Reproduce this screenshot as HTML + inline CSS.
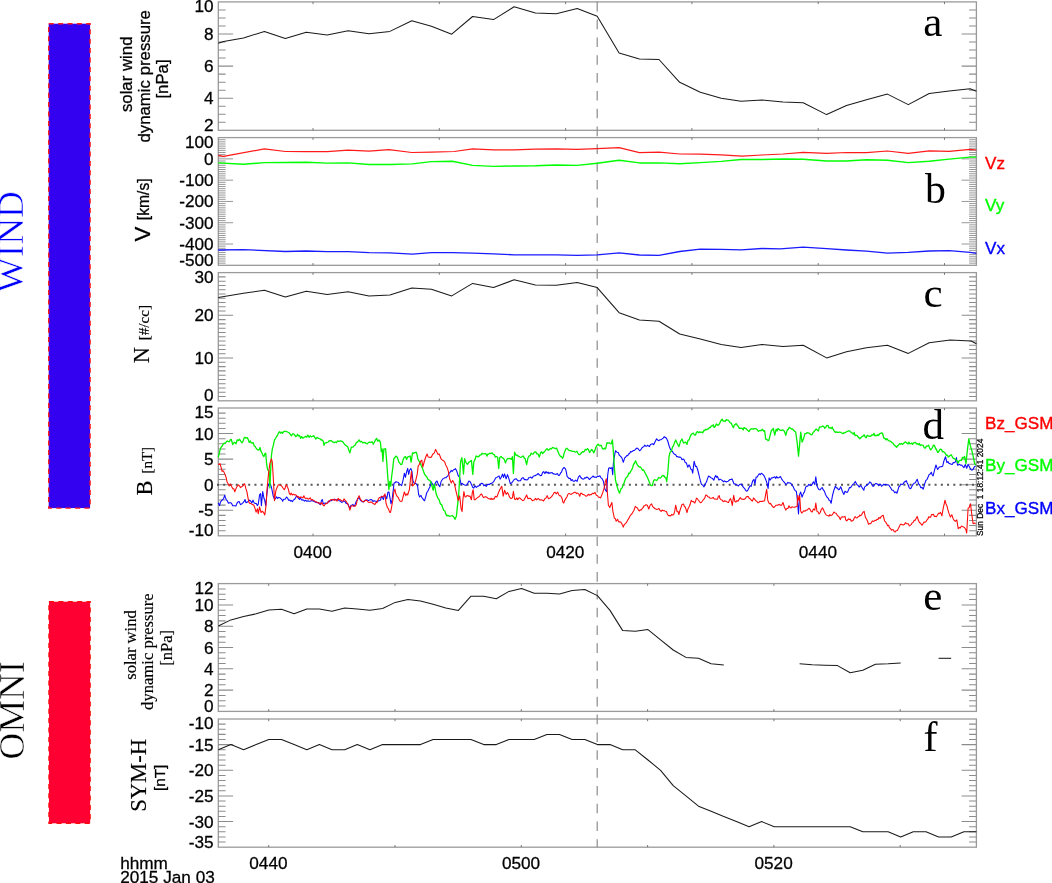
<!DOCTYPE html>
<html lang="en"><head><meta charset="utf-8"><title>WIND / OMNI solar wind overview</title>
<style>
html,body{margin:0;padding:0;background:#fff;}
svg{display:block;}
text{white-space:pre;}
</style></head>
<body>
<svg width="1052" height="883" viewBox="0 0 1052 883">
<rect width="1052" height="883" fill="#fff"/>
<g stroke="#9a9a9a" stroke-width="1.3" fill="none">
<rect x="218.3" y="1.9" width="758.1" height="128.4"/>
<path stroke-width="1.05" stroke="#8c8c8c" d="M218.3 9.93h7.3M976.4 9.93h-7.3M218.3 17.95h7.3M976.4 17.95h-7.3M218.3 25.98h7.3M976.4 25.98h-7.3M218.3 34.00h14.8M976.4 34.00h-14.8M218.3 42.02h7.3M976.4 42.02h-7.3M218.3 50.05h7.3M976.4 50.05h-7.3M218.3 58.08h7.3M976.4 58.08h-7.3M218.3 66.10h14.8M976.4 66.10h-14.8M218.3 74.13h7.3M976.4 74.13h-7.3M218.3 82.15h7.3M976.4 82.15h-7.3M218.3 90.18h7.3M976.4 90.18h-7.3M218.3 98.20h14.8M976.4 98.20h-14.8M218.3 106.23h7.3M976.4 106.23h-7.3M218.3 114.25h7.3M976.4 114.25h-7.3M218.3 122.28h7.3M976.4 122.28h-7.3"/>
<path stroke="#777" stroke-width="1" d="M313.0 1.9v2.2M313.0 130.3v-2.2M565.6 1.9v2.2M565.6 130.3v-2.2M818.2 1.9v2.2M818.2 130.3v-2.2M439.3 1.9v2.2M439.3 130.3v-2.2M691.9 1.9v2.2M691.9 130.3v-2.2M944.5 1.9v2.2M944.5 130.3v-2.2"/>
<rect x="218.3" y="137.6" width="758.1" height="127.7"/>
<path stroke-width="0.85" stroke="#858585" d="M218.3 139.73h7.3M976.4 139.73h-7.3M218.3 141.86h7.3M976.4 141.86h-7.3M218.3 143.98h7.3M976.4 143.98h-7.3M218.3 146.11h7.3M976.4 146.11h-7.3M218.3 148.24h7.3M976.4 148.24h-7.3M218.3 150.37h7.3M976.4 150.37h-7.3M218.3 152.50h7.3M976.4 152.50h-7.3M218.3 154.63h7.3M976.4 154.63h-7.3M218.3 156.75h7.3M976.4 156.75h-7.3M218.3 158.88h14.8M976.4 158.88h-14.8M218.3 161.01h7.3M976.4 161.01h-7.3M218.3 163.14h7.3M976.4 163.14h-7.3M218.3 165.27h7.3M976.4 165.27h-7.3M218.3 167.40h7.3M976.4 167.40h-7.3M218.3 169.53h7.3M976.4 169.53h-7.3M218.3 171.65h7.3M976.4 171.65h-7.3M218.3 173.78h7.3M976.4 173.78h-7.3M218.3 175.91h7.3M976.4 175.91h-7.3M218.3 178.04h7.3M976.4 178.04h-7.3M218.3 180.17h14.8M976.4 180.17h-14.8M218.3 182.29h7.3M976.4 182.29h-7.3M218.3 184.42h7.3M976.4 184.42h-7.3M218.3 186.55h7.3M976.4 186.55h-7.3M218.3 188.68h7.3M976.4 188.68h-7.3M218.3 190.81h7.3M976.4 190.81h-7.3M218.3 192.94h7.3M976.4 192.94h-7.3M218.3 195.06h7.3M976.4 195.06h-7.3M218.3 197.19h7.3M976.4 197.19h-7.3M218.3 199.32h7.3M976.4 199.32h-7.3M218.3 201.45h14.8M976.4 201.45h-14.8M218.3 203.58h7.3M976.4 203.58h-7.3M218.3 205.71h7.3M976.4 205.71h-7.3M218.3 207.84h7.3M976.4 207.84h-7.3M218.3 209.96h7.3M976.4 209.96h-7.3M218.3 212.09h7.3M976.4 212.09h-7.3M218.3 214.22h7.3M976.4 214.22h-7.3M218.3 216.35h7.3M976.4 216.35h-7.3M218.3 218.48h7.3M976.4 218.48h-7.3M218.3 220.61h7.3M976.4 220.61h-7.3M218.3 222.73h14.8M976.4 222.73h-14.8M218.3 224.86h7.3M976.4 224.86h-7.3M218.3 226.99h7.3M976.4 226.99h-7.3M218.3 229.12h7.3M976.4 229.12h-7.3M218.3 231.25h7.3M976.4 231.25h-7.3M218.3 233.38h7.3M976.4 233.38h-7.3M218.3 235.50h7.3M976.4 235.50h-7.3M218.3 237.63h7.3M976.4 237.63h-7.3M218.3 239.76h7.3M976.4 239.76h-7.3M218.3 241.89h7.3M976.4 241.89h-7.3M218.3 244.02h14.8M976.4 244.02h-14.8M218.3 246.15h7.3M976.4 246.15h-7.3M218.3 248.27h7.3M976.4 248.27h-7.3M218.3 250.40h7.3M976.4 250.40h-7.3M218.3 252.53h7.3M976.4 252.53h-7.3M218.3 254.66h7.3M976.4 254.66h-7.3M218.3 256.79h7.3M976.4 256.79h-7.3M218.3 258.92h7.3M976.4 258.92h-7.3M218.3 261.04h7.3M976.4 261.04h-7.3M218.3 263.17h7.3M976.4 263.17h-7.3"/>
<path stroke="#777" stroke-width="1" d="M313.0 137.6v2.2M313.0 265.3v-2.2M565.6 137.6v2.2M565.6 265.3v-2.2M818.2 137.6v2.2M818.2 265.3v-2.2M439.3 137.6v2.2M439.3 265.3v-2.2M691.9 137.6v2.2M691.9 265.3v-2.2M944.5 137.6v2.2M944.5 265.3v-2.2"/>
<rect x="218.3" y="272.6" width="758.1" height="128.2"/>
<path stroke-width="1.05" stroke="#8c8c8c" d="M218.3 276.87h7.3M976.4 276.87h-7.3M218.3 281.15h7.3M976.4 281.15h-7.3M218.3 285.42h7.3M976.4 285.42h-7.3M218.3 289.69h7.3M976.4 289.69h-7.3M218.3 293.97h7.3M976.4 293.97h-7.3M218.3 298.24h7.3M976.4 298.24h-7.3M218.3 302.51h7.3M976.4 302.51h-7.3M218.3 306.79h7.3M976.4 306.79h-7.3M218.3 311.06h7.3M976.4 311.06h-7.3M218.3 315.33h14.8M976.4 315.33h-14.8M218.3 319.61h7.3M976.4 319.61h-7.3M218.3 323.88h7.3M976.4 323.88h-7.3M218.3 328.15h7.3M976.4 328.15h-7.3M218.3 332.43h7.3M976.4 332.43h-7.3M218.3 336.70h7.3M976.4 336.70h-7.3M218.3 340.97h7.3M976.4 340.97h-7.3M218.3 345.25h7.3M976.4 345.25h-7.3M218.3 349.52h7.3M976.4 349.52h-7.3M218.3 353.79h7.3M976.4 353.79h-7.3M218.3 358.07h14.8M976.4 358.07h-14.8M218.3 362.34h7.3M976.4 362.34h-7.3M218.3 366.61h7.3M976.4 366.61h-7.3M218.3 370.89h7.3M976.4 370.89h-7.3M218.3 375.16h7.3M976.4 375.16h-7.3M218.3 379.43h7.3M976.4 379.43h-7.3M218.3 383.71h7.3M976.4 383.71h-7.3M218.3 387.98h7.3M976.4 387.98h-7.3M218.3 392.25h7.3M976.4 392.25h-7.3M218.3 396.53h7.3M976.4 396.53h-7.3"/>
<path stroke="#777" stroke-width="1" d="M313.0 272.6v2.2M313.0 400.8v-2.2M565.6 272.6v2.2M565.6 400.8v-2.2M818.2 272.6v2.2M818.2 400.8v-2.2M439.3 272.6v2.2M439.3 400.8v-2.2M691.9 272.6v2.2M691.9 400.8v-2.2M944.5 272.6v2.2M944.5 400.8v-2.2"/>
<rect x="218.3" y="408.0" width="758.1" height="127.8"/>
<path stroke-width="1.05" stroke="#8c8c8c" d="M218.3 413.11h7.3M976.4 413.11h-7.3M218.3 418.22h7.3M976.4 418.22h-7.3M218.3 423.34h7.3M976.4 423.34h-7.3M218.3 428.45h7.3M976.4 428.45h-7.3M218.3 433.56h14.8M976.4 433.56h-14.8M218.3 438.67h7.3M976.4 438.67h-7.3M218.3 443.78h7.3M976.4 443.78h-7.3M218.3 448.90h7.3M976.4 448.90h-7.3M218.3 454.01h7.3M976.4 454.01h-7.3M218.3 459.12h14.8M976.4 459.12h-14.8M218.3 464.23h7.3M976.4 464.23h-7.3M218.3 469.34h7.3M976.4 469.34h-7.3M218.3 474.46h7.3M976.4 474.46h-7.3M218.3 479.57h7.3M976.4 479.57h-7.3M218.3 484.68h14.8M976.4 484.68h-14.8M218.3 489.79h7.3M976.4 489.79h-7.3M218.3 494.90h7.3M976.4 494.90h-7.3M218.3 500.02h7.3M976.4 500.02h-7.3M218.3 505.13h7.3M976.4 505.13h-7.3M218.3 510.24h14.8M976.4 510.24h-14.8M218.3 515.35h7.3M976.4 515.35h-7.3M218.3 520.46h7.3M976.4 520.46h-7.3M218.3 525.58h7.3M976.4 525.58h-7.3M218.3 530.69h7.3M976.4 530.69h-7.3"/>
<path stroke="#777" stroke-width="1" d="M313.0 408.0v2.2M313.0 535.8v-2.2M565.6 408.0v2.2M565.6 535.8v-2.2M818.2 408.0v2.2M818.2 535.8v-2.2M439.3 408.0v2.2M439.3 535.8v-2.2M691.9 408.0v2.2M691.9 535.8v-2.2M944.5 408.0v2.2M944.5 535.8v-2.2"/>
<rect x="218.3" y="583.6" width="758.1" height="127.8"/>
<path stroke-width="1.05" stroke="#8c8c8c" d="M218.3 588.93h7.3M976.4 588.93h-7.3M218.3 594.25h7.3M976.4 594.25h-7.3M218.3 599.58h7.3M976.4 599.58h-7.3M218.3 604.90h14.8M976.4 604.90h-14.8M218.3 610.23h7.3M976.4 610.23h-7.3M218.3 615.55h7.3M976.4 615.55h-7.3M218.3 620.88h7.3M976.4 620.88h-7.3M218.3 626.20h14.8M976.4 626.20h-14.8M218.3 631.52h7.3M976.4 631.52h-7.3M218.3 636.85h7.3M976.4 636.85h-7.3M218.3 642.17h7.3M976.4 642.17h-7.3M218.3 647.50h14.8M976.4 647.50h-14.8M218.3 652.83h7.3M976.4 652.83h-7.3M218.3 658.15h7.3M976.4 658.15h-7.3M218.3 663.48h7.3M976.4 663.48h-7.3M218.3 668.80h14.8M976.4 668.80h-14.8M218.3 674.12h7.3M976.4 674.12h-7.3M218.3 679.45h7.3M976.4 679.45h-7.3M218.3 684.77h7.3M976.4 684.77h-7.3M218.3 690.10h14.8M976.4 690.10h-14.8M218.3 695.42h7.3M976.4 695.42h-7.3M218.3 700.75h7.3M976.4 700.75h-7.3M218.3 706.08h7.3M976.4 706.08h-7.3"/>
<path stroke="#777" stroke-width="1" d="M268.7 583.6v2.2M268.7 711.4v-2.2M521.3 583.6v2.2M521.3 711.4v-2.2M773.9 583.6v2.2M773.9 711.4v-2.2M395.0 583.6v2.2M395.0 711.4v-2.2M647.6 583.6v2.2M647.6 711.4v-2.2M900.2 583.6v2.2M900.2 711.4v-2.2"/>
<rect x="218.3" y="719.0" width="758.1" height="128.2"/>
<path stroke-width="1.05" stroke="#8c8c8c" d="M218.3 724.13h7.3M976.4 724.13h-7.3M218.3 729.26h7.3M976.4 729.26h-7.3M218.3 734.38h7.3M976.4 734.38h-7.3M218.3 739.51h7.3M976.4 739.51h-7.3M218.3 744.64h14.8M976.4 744.64h-14.8M218.3 749.77h7.3M976.4 749.77h-7.3M218.3 754.90h7.3M976.4 754.90h-7.3M218.3 760.02h7.3M976.4 760.02h-7.3M218.3 765.15h7.3M976.4 765.15h-7.3M218.3 770.28h14.8M976.4 770.28h-14.8M218.3 775.41h7.3M976.4 775.41h-7.3M218.3 780.54h7.3M976.4 780.54h-7.3M218.3 785.66h7.3M976.4 785.66h-7.3M218.3 790.79h7.3M976.4 790.79h-7.3M218.3 795.92h14.8M976.4 795.92h-14.8M218.3 801.05h7.3M976.4 801.05h-7.3M218.3 806.18h7.3M976.4 806.18h-7.3M218.3 811.30h7.3M976.4 811.30h-7.3M218.3 816.43h7.3M976.4 816.43h-7.3M218.3 821.56h14.8M976.4 821.56h-14.8M218.3 826.69h7.3M976.4 826.69h-7.3M218.3 831.82h7.3M976.4 831.82h-7.3M218.3 836.94h7.3M976.4 836.94h-7.3M218.3 842.07h7.3M976.4 842.07h-7.3"/>
<path stroke="#777" stroke-width="1" d="M268.7 719.0v2.2M268.7 847.2v-2.2M521.3 719.0v2.2M521.3 847.2v-2.2M773.9 719.0v2.2M773.9 847.2v-2.2M395.0 719.0v2.2M395.0 847.2v-2.2M647.6 719.0v2.2M647.6 847.2v-2.2M900.2 719.0v2.2M900.2 847.2v-2.2"/>
</g>
<line x1="217.0" y1="484.7" x2="976.4" y2="484.7" stroke="#555" stroke-width="1.9" stroke-dasharray="2 4.24"/>
<line x1="597.2" y1="1.8" x2="597.2" y2="847.2" stroke="#8c8c8c" stroke-width="1.2" stroke-dasharray="9.6 8.22"/>
<polyline fill="none" stroke="#1a1a1a" stroke-width="1.05" stroke-linejoin="round" points="218.2,43.3 223.6,41.4 243.5,38.0 264.4,31.4 285.3,38.4 306.3,32.3 327.2,35.0 348.1,30.8 369.0,33.8 389.9,31.4 411.8,20.7 431.4,26.2 451.7,34.2 472.6,16.5 493.5,19.6 514.1,6.8 535.4,13.1 556.3,13.7 577.2,8.4 597.2,16.2 619.1,52.9 639.4,58.9 659.0,59.5 679.7,82.3 700.3,92.2 721.2,98.3 741.1,101.3 762.0,100.0 783.0,101.9 803.2,102.7 826.6,114.6 846.5,105.5 866.5,99.8 887.4,94.1 908.3,104.6 929.2,93.5 949.2,90.9 970.1,88.8 976.4,91.2"/>
<polyline fill="none" stroke="#1a1aff" stroke-width="1.3" stroke-linejoin="round" points="218.2,250.0 243.5,249.6 285.3,251.5 306.3,251.0 327.2,251.7 348.1,251.7 369.0,252.7 389.9,252.9 412.4,254.2 431.4,252.7 452.3,252.7 472.6,253.1 493.5,253.8 514.1,254.8 535.4,254.8 556.3,254.8 577.2,255.3 597.2,254.8 619.1,252.9 639.4,255.0 659.0,255.3 679.7,251.5 700.3,249.1 721.2,249.4 741.1,249.8 762.0,248.5 780.1,248.9 803.2,247.2 826.6,248.7 846.5,250.0 866.5,251.2 887.4,253.1 908.3,252.3 929.2,251.0 949.2,250.6 970.1,252.3 976.4,253.3"/>
<polyline fill="none" stroke="#00ff00" stroke-width="1.45" stroke-linejoin="round" points="218.2,162.9 243.5,164.3 264.4,162.6 306.3,162.2 327.2,163.1 348.1,162.9 369.0,164.5 389.9,164.5 412.4,163.9 431.4,161.6 452.3,161.2 472.6,165.4 493.5,166.4 514.1,166.0 535.4,165.8 556.3,165.0 577.2,165.4 597.2,163.3 619.1,160.3 639.4,162.9 659.0,162.9 679.7,163.7 700.3,162.6 721.2,161.4 741.1,159.5 762.0,159.5 783.9,159.0 803.2,159.3 826.6,161.0 846.5,161.0 866.5,159.7 887.4,160.3 908.3,162.6 929.2,161.2 949.2,159.1 970.1,157.1 976.4,157.1"/>
<polyline fill="none" stroke="#ff1a1a" stroke-width="1.2" stroke-linejoin="round" points="218.2,155.3 223.6,156.3 264.4,148.9 285.3,151.5 306.3,151.7 327.2,151.7 348.1,150.2 369.0,151.2 389.0,149.6 411.8,152.5 431.4,152.1 454.2,151.5 472.6,148.9 493.5,149.8 514.1,149.8 535.4,149.1 556.3,148.9 577.2,149.3 597.2,148.6 619.1,147.7 639.4,152.7 659.0,152.1 679.7,154.0 700.3,154.2 721.2,154.8 742.1,156.1 762.0,155.0 783.0,154.0 803.2,152.3 826.6,153.4 846.5,152.5 866.5,152.7 887.4,151.0 908.3,153.4 929.2,150.8 949.2,151.3 970.1,149.3 976.4,150.0"/>
<polyline fill="none" stroke="#1a1a1a" stroke-width="1.05" stroke-linejoin="round" points="218.2,297.5 243.5,293.3 264.4,290.2 285.3,297.1 306.3,291.2 327.2,294.6 348.1,291.8 369.0,295.9 389.9,295.0 411.8,288.1 431.4,289.3 451.7,295.9 472.6,283.4 493.5,287.6 514.1,279.8 535.4,285.1 556.3,285.3 577.2,282.4 597.2,287.6 619.1,312.7 639.4,319.9 659.0,321.2 679.7,334.0 700.3,338.9 721.2,344.4 741.1,347.5 762.0,344.4 783.0,346.5 803.2,345.2 826.6,357.9 846.5,351.7 866.5,347.8 887.4,345.2 908.3,353.4 929.2,342.7 950.2,340.1 971.1,341.0 976.4,343.8"/>
<polyline fill="none" stroke="#0a0aff" stroke-width="1.08" stroke-linejoin="round" points="218.2,502.8 219.5,505.6 220.4,502.3 221.4,500.8 222.4,499.7 223.5,498.8 224.6,495.3 225.4,497.5 226.3,499.8 227.4,500.9 228.5,503.2 229.6,502.7 230.6,502.7 231.6,503.5 232.7,505.7 233.8,505.8 234.8,505.8 235.9,506.1 236.9,503.4 238.0,501.9 239.1,501.5 240.5,504.6 241.6,504.0 242.6,503.2 243.8,501.9 245.0,499.5 245.9,502.6 246.9,502.4 247.8,501.7 248.8,500.9 249.7,500.1 250.8,501.2 251.8,503.0 253.0,500.1 254.2,503.1 255.4,503.4 256.3,503.5 257.3,505.6 258.2,504.5 259.6,494.9 260.6,493.6 261.4,505.6 262.7,491.6 263.9,498.0 264.8,500.7 265.7,505.8 266.7,495.7 267.7,487.2 268.8,483.9 269.6,483.4 270.5,484.5 271.6,487.9 273.1,495.7 274.5,499.4 275.6,498.5 276.6,496.7 277.6,498.4 278.7,497.4 279.8,497.7 280.8,498.6 281.8,499.6 282.7,501.3 283.5,499.4 284.4,499.3 285.4,498.9 286.5,497.0 287.6,498.1 288.6,500.2 289.6,499.9 290.5,501.1 291.5,500.6 292.4,501.7 293.4,499.9 294.3,499.6 295.4,498.2 296.4,496.2 297.4,496.6 298.5,498.4 299.5,499.5 300.4,497.6 301.4,499.9 302.4,499.9 303.5,500.1 304.6,501.1 305.6,500.2 306.7,501.3 307.8,500.8 308.8,501.2 309.9,501.3 310.9,500.9 312.0,500.5 313.1,501.1 314.1,501.3 315.2,502.0 316.2,502.4 317.3,502.6 318.4,502.6 319.4,503.9 320.5,504.8 321.4,500.6 322.3,499.5 323.3,503.8 324.4,503.3 325.5,503.0 326.4,503.2 327.4,503.1 328.3,501.1 329.4,501.7 330.4,500.4 331.4,500.6 332.5,499.7 333.6,499.8 334.6,499.1 335.7,499.9 336.8,499.7 337.7,499.6 338.7,500.4 339.6,500.9 340.5,501.1 341.5,502.3 342.4,502.2 343.7,500.9 345.0,501.4 345.7,503.0 346.8,503.6 347.8,503.8 348.9,506.2 349.9,508.6 350.9,505.4 352.0,505.3 353.0,504.4 353.9,506.2 354.9,505.2 355.9,502.2 357.0,500.0 358.1,498.5 359.1,497.6 360.1,499.9 361.2,500.9 362.3,501.7 363.4,502.0 364.3,500.7 365.3,500.3 366.2,499.8 367.4,500.0 368.5,500.6 369.7,499.9 370.8,499.5 371.9,499.8 372.9,501.5 374.0,500.7 375.2,501.1 376.3,501.4 377.5,501.6 378.6,500.8 379.6,500.4 380.6,499.9 381.5,496.2 382.5,497.8 383.4,499.5 384.4,495.4 385.3,495.7 386.7,498.8 387.9,492.2 388.9,491.9 390.3,499.6 391.0,503.8 392.1,499.9 393.1,491.3 394.1,482.7 395.0,482.8 395.9,481.7 397.0,482.0 398.1,482.2 399.1,483.6 400.2,484.4 401.6,485.6 403.0,480.3 404.4,473.2 405.4,477.3 406.6,471.8 407.7,468.4 408.7,474.5 409.7,470.0 410.8,468.5 411.9,471.1 412.9,480.8 414.3,483.5 415.4,483.4 416.5,484.0 417.6,486.0 418.6,494.2 419.6,497.0 421.0,495.4 421.9,497.6 422.8,498.6 423.6,499.9 424.5,500.8 425.7,496.8 426.8,492.5 427.8,491.4 428.9,488.8 429.9,487.0 431.3,481.9 432.7,484.4 434.2,486.3 435.6,482.4 437.0,481.0 438.4,484.6 439.8,486.8 441.2,481.2 442.7,479.0 443.8,478.4 444.8,477.7 445.9,477.8 446.9,476.7 447.9,475.9 449.0,473.3 450.1,472.3 451.2,470.4 452.2,471.5 453.3,470.0 454.4,469.6 455.4,468.6 456.8,471.3 458.2,475.6 459.7,477.5 461.1,484.4 462.1,483.4 463.2,484.2 464.2,484.7 465.3,485.2 466.4,485.3 467.4,483.9 468.9,481.0 470.0,481.6 471.4,484.3 472.8,487.6 473.8,488.1 474.9,485.7 476.3,487.5 477.4,486.3 478.5,486.1 479.6,485.3 480.6,484.2 481.6,483.2 482.7,483.6 483.8,485.8 484.8,484.9 486.2,486.4 487.3,484.5 488.4,484.3 489.4,484.6 490.5,483.5 491.6,483.4 492.6,482.6 493.6,481.7 494.7,479.8 495.8,477.8 496.9,477.4 497.9,476.6 499.0,475.9 500.1,479.1 501.1,477.5 502.5,474.1 503.5,477.4 504.6,473.9 506.1,478.8 507.5,474.6 508.9,478.6 510.3,483.6 511.7,482.9 513.1,481.0 514.2,479.5 515.3,479.0 516.3,478.8 517.4,480.2 518.5,481.0 519.5,480.7 520.5,480.8 521.6,478.5 523.1,477.6 524.5,479.6 525.5,479.6 526.6,479.9 527.7,479.8 528.7,477.8 529.8,477.4 530.8,477.0 531.9,478.3 533.0,476.6 534.0,475.8 535.1,475.8 536.2,475.0 537.2,474.5 538.2,473.5 539.3,474.8 540.4,475.6 541.5,475.5 542.5,472.6 543.6,471.6 545.0,473.6 546.0,471.6 547.1,473.0 548.1,472.1 549.0,473.6 550.0,472.7 551.0,472.9 552.1,472.6 553.2,473.9 554.2,473.9 555.2,474.3 556.3,474.2 557.4,473.5 558.5,475.5 559.5,475.3 560.6,473.0 561.5,472.2 562.4,469.5 563.2,468.4 564.1,467.5 565.0,468.3 565.8,469.7 567.2,476.7 568.2,477.5 569.1,478.6 570.2,478.3 571.2,480.7 572.2,479.5 573.3,481.3 574.4,481.3 575.5,480.1 577.1,481.4 578.3,477.3 579.7,475.5 580.8,477.5 581.8,478.5 582.8,479.1 583.9,479.0 584.9,477.7 585.8,478.0 586.8,477.0 587.7,477.4 588.7,478.8 589.6,479.5 590.7,478.1 591.7,477.3 593.2,476.0 594.1,477.1 595.0,477.0 596.4,477.5 597.5,476.1 598.5,476.6 599.9,475.8 601.0,477.8 602.0,478.6 603.5,481.6 604.9,489.1 605.8,490.7 606.7,491.7 607.7,475.0 608.7,468.2 609.6,467.7 610.5,468.5 611.9,467.6 612.7,474.6 613.4,463.0 614.4,456.3 615.5,450.7 616.9,452.2 618.3,452.6 619.3,455.3 620.4,456.1 621.9,457.8 623.3,462.3 624.7,457.9 625.8,457.0 626.8,455.5 627.7,455.7 628.7,453.8 629.6,453.6 630.6,451.5 631.5,451.9 632.5,451.2 633.4,450.5 634.4,450.5 635.3,449.5 636.2,448.6 637.2,448.1 638.1,448.8 639.6,450.8 640.7,449.9 641.7,448.2 642.8,447.1 643.8,446.7 644.7,445.1 645.7,446.1 646.6,446.3 647.6,445.2 648.5,446.1 649.5,446.6 650.5,444.6 651.6,444.1 652.7,443.7 653.7,444.8 655.1,441.7 656.6,438.8 658.0,440.3 659.0,440.7 660.1,439.7 661.2,439.7 662.2,438.9 663.2,438.1 664.3,436.7 665.4,437.5 666.5,438.3 667.9,441.5 669.3,446.5 670.3,449.1 671.4,450.7 672.5,451.5 673.5,453.4 674.6,454.2 675.7,454.8 676.8,456.8 677.8,456.6 678.8,457.3 679.9,456.9 681.0,457.6 682.0,459.8 683.1,458.9 684.2,459.8 685.2,462.6 686.3,462.7 687.7,467.2 689.1,464.9 690.0,466.6 690.8,469.2 691.8,469.5 692.7,473.1 694.1,461.2 695.5,466.5 696.5,466.4 697.6,469.5 699.0,475.0 700.5,481.5 701.5,484.4 702.6,485.0 704.0,486.9 704.9,484.7 705.8,483.1 706.6,481.6 707.5,478.6 708.6,476.0 709.7,476.7 710.8,477.7 711.8,478.1 712.8,478.8 713.9,480.2 714.8,477.2 715.7,475.4 716.5,477.3 717.4,476.3 718.9,480.1 720.0,479.1 721.4,479.9 722.5,480.7 723.5,481.8 724.4,480.9 725.4,481.4 726.3,482.0 727.3,481.5 728.2,481.2 729.2,480.2 730.1,479.5 731.1,479.5 732.0,478.9 733.0,481.2 734.1,484.0 735.2,484.0 736.2,484.7 737.3,485.1 738.4,486.0 739.5,484.5 740.5,484.2 741.5,484.1 742.6,486.2 743.7,487.6 744.7,488.7 745.8,490.6 746.9,491.2 748.0,489.8 749.0,487.7 750.0,485.7 751.1,486.4 752.5,481.3 753.9,479.2 754.9,484.2 756.1,477.1 757.2,477.0 758.2,475.2 759.2,473.8 760.3,474.6 761.3,473.3 762.4,473.9 763.9,475.6 765.3,478.5 766.7,482.1 768.1,488.4 769.1,477.9 770.2,480.1 771.6,477.7 772.7,477.9 773.8,477.2 774.7,476.8 775.7,478.4 776.6,476.6 777.7,477.9 778.7,477.8 779.7,477.0 780.6,476.6 781.6,478.9 782.7,480.5 783.7,481.6 784.8,482.9 785.8,484.6 786.8,483.8 787.9,482.4 789.0,483.0 790.0,482.9 791.1,483.7 792.2,485.6 793.2,486.6 794.3,489.3 795.3,490.6 796.4,491.5 797.4,500.4 798.5,513.9 799.7,494.2 800.7,492.1 802.1,497.1 803.5,493.1 804.5,491.8 805.6,487.4 806.7,486.0 807.7,486.2 808.8,484.3 809.9,485.3 811.0,485.5 812.0,484.5 813.4,481.7 814.8,484.6 815.8,476.7 817.0,486.0 818.0,488.1 819.1,489.7 820.2,489.7 821.2,488.3 822.2,487.6 823.3,489.9 824.4,491.2 825.5,494.5 826.9,497.0 828.3,498.3 829.1,500.2 830.0,500.5 831.1,503.3 832.5,495.5 833.9,490.2 835.4,486.2 836.5,487.9 837.5,488.1 838.4,489.8 839.3,489.5 840.7,486.8 841.5,488.7 842.4,491.5 843.9,494.4 845.0,491.3 846.4,492.3 847.5,492.3 848.5,489.9 849.5,487.5 850.6,487.6 851.7,486.0 852.7,484.5 854.0,483.6 855.3,481.4 856.1,482.9 857.0,484.7 858.0,485.2 859.1,487.1 860.2,485.6 861.2,486.3 862.5,488.3 863.8,490.3 864.6,486.9 865.5,486.4 866.5,485.3 867.6,484.5 868.7,483.7 869.7,481.9 870.8,482.5 871.9,484.7 872.8,486.2 873.8,486.1 874.7,484.3 875.8,483.4 876.8,483.8 877.7,484.3 878.7,485.6 879.6,484.3 880.6,484.3 881.5,486.2 882.5,485.6 883.5,484.4 884.6,484.6 885.7,484.6 886.7,484.8 887.8,484.9 888.8,485.0 889.9,486.7 891.0,488.4 891.9,490.0 892.9,490.2 893.8,491.2 894.8,492.8 895.9,491.8 896.9,493.3 897.8,490.6 898.7,487.1 899.8,486.0 900.9,483.9 902.0,484.6 903.0,484.1 904.4,481.9 905.3,481.7 906.3,480.6 907.1,482.7 908.0,484.5 909.0,487.3 910.1,488.7 911.2,488.0 912.2,485.6 913.2,484.1 914.3,483.2 915.3,482.8 916.2,481.0 917.2,479.2 918.6,484.0 919.7,485.0 920.7,487.6 922.0,487.4 923.2,489.2 924.0,486.7 924.9,483.1 926.0,480.3 927.1,479.3 928.2,476.7 929.2,474.6 930.2,474.1 931.3,472.2 932.2,474.7 933.1,475.9 934.6,469.9 936.0,465.0 936.9,467.7 937.7,469.5 939.1,467.3 940.2,466.7 941.2,466.6 942.6,466.3 944.0,460.7 945.5,456.7 946.9,462.5 948.0,461.6 949.0,463.4 950.0,463.6 951.1,464.2 952.2,464.4 953.3,462.4 954.3,462.8 955.4,461.9 956.4,457.5 957.5,465.1 958.5,464.9 959.6,464.3 960.7,465.3 961.7,465.0 962.8,466.4 963.9,467.7 965.3,464.5 966.7,468.3 968.1,464.2 969.2,466.4 970.2,468.4 971.3,470.0 972.4,469.9 973.3,469.0 974.2,467.0 975.6,465.9"/>
<polyline fill="none" stroke="#00f000" stroke-width="1.3" stroke-linejoin="round" points="218.2,457.5 219.2,453.5 220.3,448.9 221.4,446.7 222.3,446.0 223.3,443.7 224.2,443.3 225.3,443.0 226.3,441.8 227.4,441.0 228.5,441.7 229.4,441.7 230.4,439.6 231.3,439.3 232.7,444.5 233.8,442.9 234.8,442.4 236.0,443.7 237.2,439.8 238.4,440.5 239.6,439.3 240.7,441.1 241.9,442.7 242.9,441.6 244.0,438.3 245.0,437.3 246.1,438.1 247.2,437.7 248.3,439.6 249.2,442.5 250.2,440.9 251.1,442.7 252.1,443.2 253.2,442.6 254.2,445.9 255.1,446.3 256.1,448.3 257.1,449.2 258.2,450.1 259.1,449.7 260.0,447.5 260.9,451.1 261.7,452.5 262.8,455.1 263.9,456.6 264.8,453.9 265.7,453.1 266.7,464.7 267.7,469.9 269.1,471.0 269.9,488.0 270.6,471.7 271.4,455.8 272.3,449.2 273.4,445.1 274.5,439.8 275.6,438.3 276.6,436.5 277.6,435.1 278.7,432.6 279.7,431.7 280.6,433.1 281.6,432.3 282.5,433.4 283.5,431.7 284.4,431.3 285.4,431.4 286.5,431.5 287.6,432.0 288.6,432.5 289.6,433.3 290.5,434.8 291.5,435.7 292.6,433.9 293.6,433.8 294.6,435.0 295.7,436.5 296.6,436.2 297.6,434.2 298.5,436.0 299.6,435.5 300.6,438.4 301.7,436.6 302.8,438.1 303.7,437.6 304.7,437.0 305.6,436.3 306.7,437.1 307.9,435.1 309.0,437.3 310.2,435.8 311.3,436.9 312.4,436.4 313.6,435.7 314.7,437.4 315.9,439.0 317.0,437.4 318.1,438.2 319.1,438.5 320.1,438.8 321.2,440.0 322.2,440.0 323.3,441.4 324.0,445.4 324.7,443.1 325.9,442.8 327.1,442.5 328.3,442.0 329.2,440.7 330.2,441.1 331.1,440.4 332.2,441.6 333.2,442.2 334.3,442.6 335.4,442.0 336.4,442.6 337.5,441.0 338.6,441.3 339.6,441.1 340.8,440.9 342.0,441.3 343.2,442.3 344.1,443.6 345.0,444.8 345.7,445.4 346.8,446.0 347.8,446.9 348.9,450.4 349.9,452.9 351.3,447.1 352.3,447.1 353.2,447.0 354.2,445.5 355.2,445.2 356.3,442.6 357.2,442.2 358.2,441.1 359.1,439.9 360.3,441.9 361.5,441.4 362.7,442.8 363.9,442.4 365.0,442.6 366.2,443.4 367.4,443.8 368.5,442.4 369.7,442.2 370.9,442.4 372.1,441.8 373.3,444.2 374.4,442.0 375.4,440.1 376.6,438.4 377.7,441.2 378.9,440.0 380.4,442.1 381.3,451.6 382.2,449.0 382.9,461.4 383.9,448.8 384.8,449.2 385.6,448.7 386.7,461.8 387.9,478.4 388.9,489.8 389.8,481.5 390.7,486.1 391.7,476.0 392.7,468.6 393.8,458.9 394.9,457.5 395.9,456.1 397.3,457.2 398.8,461.9 399.9,463.3 400.9,464.6 401.9,464.4 403.0,460.1 404.4,457.0 405.5,456.6 406.6,459.5 407.6,457.1 408.7,456.5 410.1,456.0 411.1,462.1 412.5,452.8 413.4,453.4 414.3,452.7 415.4,452.5 416.5,452.4 417.9,459.1 419.3,461.5 420.4,463.3 421.4,466.3 422.4,468.1 423.5,471.3 424.6,474.2 425.7,475.8 426.8,476.9 427.8,479.3 428.7,479.9 429.7,480.3 430.6,481.7 432.0,486.0 433.2,490.3 434.2,484.0 435.2,488.6 436.3,494.3 437.7,497.8 439.1,499.7 440.5,504.2 441.6,504.5 442.7,507.8 443.8,510.5 444.8,510.9 445.9,514.2 446.9,515.9 447.9,515.3 449.0,516.1 450.1,516.1 451.2,515.8 452.2,515.5 453.3,516.5 454.1,517.4 455.0,519.3 456.4,516.2 457.5,505.6 458.7,494.5 459.7,476.9 460.6,461.8 461.8,457.6 462.6,464.2 463.5,474.0 464.6,458.7 466.0,462.6 467.4,464.4 468.9,462.1 470.0,461.6 471.4,460.4 472.8,474.4 473.8,462.0 475.2,459.1 476.1,456.0 477.0,456.4 478.1,456.9 479.2,456.1 480.1,454.8 481.1,454.9 482.0,453.3 482.9,453.9 483.9,453.8 484.8,453.7 485.9,453.7 486.9,456.1 487.9,454.0 488.8,454.1 489.8,453.1 491.0,453.7 492.1,452.9 493.3,454.3 494.4,454.7 495.4,457.2 496.5,456.5 497.6,457.2 498.7,468.4 499.7,457.6 501.1,456.5 502.1,457.6 503.2,458.2 504.3,459.6 505.4,462.9 506.4,460.5 507.5,458.6 508.4,458.5 509.4,458.3 510.3,458.7 511.4,459.4 512.4,456.7 513.4,473.4 514.6,452.2 516.0,455.3 516.9,455.0 517.9,455.9 518.8,456.3 519.8,457.0 520.9,457.4 522.0,456.8 523.1,455.9 524.2,457.9 525.2,458.8 526.6,464.7 528.0,457.8 529.0,456.0 530.1,455.9 531.1,453.1 532.0,453.9 533.0,454.2 533.9,453.0 534.9,451.9 535.8,451.9 536.8,453.9 537.9,453.8 539.3,457.1 540.8,452.3 541.7,451.9 542.7,453.6 543.6,452.4 544.5,451.6 545.5,450.3 546.4,449.0 547.4,448.9 548.3,450.3 549.3,449.7 550.3,448.5 551.4,449.0 552.5,447.4 553.5,447.9 554.5,448.1 555.6,448.7 556.7,448.1 557.7,451.1 559.2,454.6 560.6,456.7 561.5,456.5 562.4,458.3 563.2,457.2 564.1,453.4 565.0,450.9 565.8,449.0 566.8,448.2 567.7,449.1 568.8,450.3 569.8,450.6 570.7,450.7 571.7,451.1 572.6,451.3 573.7,451.3 574.7,451.9 575.8,452.1 576.9,451.2 577.8,453.0 578.8,454.5 579.7,454.7 580.6,453.8 581.6,452.7 582.5,451.7 583.5,452.0 584.4,451.2 585.4,449.4 586.5,449.8 587.5,448.6 588.5,449.7 589.6,452.5 590.7,450.8 591.7,449.5 592.8,450.9 593.9,452.8 595.0,450.0 595.7,447.6 597.1,445.2 598.2,444.2 599.2,445.6 600.2,445.5 601.3,445.4 602.4,448.6 603.5,449.2 604.5,448.1 605.6,448.9 607.0,442.7 608.0,443.3 609.1,442.7 610.2,443.5 611.2,443.9 612.4,439.8 613.4,451.9 614.4,468.0 615.5,480.2 616.9,485.7 618.3,490.2 619.5,493.2 620.9,489.0 622.3,487.6 623.1,484.9 624.0,483.3 624.9,480.5 625.9,478.1 626.8,477.1 627.7,476.4 628.7,473.2 629.6,473.6 630.6,471.4 631.5,470.2 632.5,468.0 633.5,464.5 634.6,463.0 635.6,460.8 637.0,464.3 638.3,466.2 639.6,467.1 640.5,467.0 641.5,468.5 642.4,470.3 643.5,469.8 644.5,471.8 645.5,473.8 646.6,475.7 647.7,478.0 648.8,480.7 649.8,483.2 650.9,485.4 652.3,485.7 653.7,480.3 655.1,479.7 656.6,480.5 657.7,479.1 658.7,477.5 660.1,478.2 661.2,477.1 662.2,475.8 663.6,475.5 665.0,477.4 665.9,477.9 666.7,481.6 667.9,471.5 669.0,457.0 670.0,452.3 671.4,451.2 672.5,447.0 673.5,445.6 674.6,442.4 675.7,439.9 677.1,443.1 678.0,444.8 678.9,446.6 679.8,443.9 680.6,441.1 682.0,439.0 683.5,443.0 684.5,442.7 685.6,442.2 687.0,444.4 688.0,440.3 689.1,439.8 690.2,436.6 691.2,434.6 692.3,433.6 693.4,433.2 694.5,435.0 695.5,435.1 696.5,432.4 697.6,431.6 698.7,432.9 699.7,431.8 700.8,432.5 701.9,432.0 702.8,432.8 703.8,430.4 704.7,430.7 705.6,429.2 706.6,429.8 707.5,429.0 708.5,428.9 709.4,427.4 710.4,427.7 711.3,425.9 712.3,425.9 713.2,424.8 714.2,427.4 715.3,426.5 716.3,423.9 717.4,425.0 718.7,425.0 720.0,422.6 721.0,420.5 722.1,419.1 723.2,421.2 724.2,421.0 725.2,421.4 726.3,419.6 727.3,420.2 728.2,420.1 729.2,421.3 730.2,422.8 731.3,423.1 732.3,425.7 733.4,427.7 734.3,425.0 735.3,424.4 736.2,423.6 737.3,425.4 738.4,426.5 739.3,428.4 740.3,428.2 741.2,428.5 742.1,428.2 743.1,430.0 744.0,427.6 745.0,428.3 745.9,428.5 746.9,429.5 748.0,430.6 749.0,431.6 750.0,429.8 751.1,428.9 752.2,428.7 753.2,429.3 754.3,428.6 755.4,428.7 756.5,428.9 757.5,430.0 758.4,431.3 759.4,430.7 760.3,430.5 761.3,430.7 762.4,429.2 763.5,431.0 764.6,430.7 765.7,439.2 767.1,439.6 768.0,440.6 768.8,440.4 770.2,435.0 771.6,429.9 772.5,429.9 773.3,428.4 774.8,435.2 776.2,429.2 777.1,430.9 778.0,428.6 779.0,429.3 780.1,430.1 781.2,430.5 782.3,429.9 783.3,430.2 784.4,431.2 785.8,435.4 787.2,430.1 788.2,429.4 789.3,427.4 790.4,428.2 791.5,429.0 792.5,429.0 793.6,430.2 794.7,431.4 795.7,432.0 797.1,442.0 798.5,456.1 799.7,443.6 800.7,432.1 802.1,442.1 803.5,438.9 804.9,433.6 806.0,433.7 807.0,432.6 808.1,432.8 809.2,433.1 810.1,434.1 811.1,434.6 812.0,434.8 813.0,432.4 814.1,431.5 815.2,430.2 816.2,428.9 817.3,430.1 818.4,430.9 819.5,426.9 820.5,427.1 821.5,426.8 822.6,426.1 823.7,426.3 824.7,428.3 825.8,427.3 826.9,425.3 828.0,425.6 829.0,428.0 830.0,427.6 831.1,428.6 832.2,427.0 833.2,429.4 834.3,431.2 835.4,432.3 836.5,431.8 837.5,432.4 838.5,432.4 839.6,432.0 840.7,432.4 841.7,433.0 842.8,433.7 843.9,432.7 845.0,432.8 845.7,432.3 846.6,431.7 847.6,431.4 848.5,430.8 849.4,430.8 850.4,431.8 851.3,432.6 852.3,433.1 853.2,434.2 854.2,432.5 855.1,435.7 856.1,435.3 857.0,435.3 857.9,436.8 858.9,437.8 859.8,438.7 860.8,437.8 861.9,436.8 863.0,436.1 864.1,434.8 865.2,436.9 866.2,437.7 867.2,435.2 868.3,436.1 869.2,436.1 870.2,436.4 871.1,435.9 872.1,434.7 873.0,435.2 874.0,433.4 874.9,435.9 875.9,435.2 876.8,435.8 877.7,434.8 878.7,435.5 879.6,433.7 880.6,433.4 881.5,432.8 882.5,433.3 883.9,438.2 885.0,438.5 886.0,439.9 886.9,438.6 887.9,440.1 888.8,440.8 889.9,440.9 891.0,441.8 891.9,442.6 892.9,443.0 893.8,444.6 894.7,445.4 895.7,446.3 896.6,447.3 897.6,445.6 898.5,445.3 899.5,443.5 900.4,444.2 901.4,443.5 902.3,444.4 903.2,443.9 904.2,442.8 905.1,441.9 906.1,442.3 907.0,443.2 908.0,443.9 908.9,442.1 909.9,443.8 910.8,443.7 911.7,443.1 912.7,444.3 913.6,442.9 914.5,442.6 915.5,442.3 916.4,444.0 917.4,443.7 918.3,444.6 919.3,443.4 920.2,445.6 921.2,444.7 922.1,445.2 923.2,445.3 924.2,447.7 925.3,448.2 926.4,446.1 927.5,446.1 928.5,445.1 929.5,447.7 930.6,449.9 931.5,449.0 932.5,447.5 933.4,445.2 934.5,445.7 935.6,448.5 936.7,450.0 937.7,452.5 938.6,452.1 939.6,449.7 940.5,449.1 941.5,449.6 942.6,451.9 943.6,451.5 944.5,452.8 945.5,453.4 946.4,455.4 947.4,455.2 948.3,457.1 949.2,456.3 950.2,455.4 951.1,454.7 952.2,456.5 953.3,458.3 954.2,458.6 955.2,459.2 956.1,460.0 957.2,461.0 958.2,463.0 959.2,460.8 960.3,460.2 961.4,460.5 962.5,457.3 963.5,457.9 964.6,456.5 966.0,463.5 967.4,449.8 968.8,438.9 970.2,445.4 971.7,450.1 973.1,455.8 974.5,462.9 975.6,465.2"/>
<polyline fill="none" stroke="#ff0a0a" stroke-width="1.08" stroke-linejoin="round" points="218.2,463.9 219.1,464.5 220.0,463.6 221.1,467.4 222.1,471.4 222.9,470.7 223.8,471.6 225.2,474.9 226.1,477.3 227.0,481.7 228.1,483.8 229.2,486.0 230.6,484.1 231.6,486.5 232.7,488.6 233.8,488.8 234.8,491.7 235.9,488.9 236.9,486.6 238.4,484.8 239.4,485.8 240.5,487.6 241.6,486.7 242.6,486.1 243.6,484.5 244.7,483.8 245.8,488.4 246.9,491.7 247.9,497.3 249.0,502.5 250.1,503.5 251.1,503.5 252.0,504.5 253.0,504.6 253.9,505.2 255.0,508.4 256.1,512.1 257.5,508.7 258.2,513.8 259.6,506.9 261.0,512.5 262.4,511.2 263.6,512.6 264.8,515.0 266.0,505.8 267.1,488.5 268.5,474.0 269.9,463.4 271.4,458.8 272.3,461.9 273.3,478.3 274.5,500.6 275.9,490.4 277.3,487.0 278.4,484.8 279.4,484.7 280.5,485.4 281.6,486.0 282.5,487.3 283.5,488.8 284.4,489.7 285.2,487.7 286.1,484.8 287.5,487.1 288.4,489.3 289.3,493.4 290.3,494.7 291.2,493.1 292.2,495.0 293.4,494.2 294.5,494.9 295.7,494.9 296.6,495.5 297.6,497.1 298.5,496.5 299.6,497.8 300.6,497.0 301.7,497.1 302.8,497.9 303.9,495.7 304.9,498.1 305.9,498.5 307.0,498.1 308.1,499.2 309.1,498.8 310.2,497.7 311.3,499.9 312.4,499.6 313.4,500.3 314.4,500.9 315.5,501.8 316.6,502.0 317.6,502.4 318.7,503.3 319.8,502.9 320.9,504.1 321.9,502.5 322.9,504.9 324.0,505.9 325.0,504.4 325.9,503.6 326.9,503.4 327.9,502.7 329.0,500.9 330.1,500.5 331.1,499.6 332.2,499.9 333.2,499.4 334.3,500.4 335.4,499.3 336.2,500.3 337.1,501.1 338.2,498.3 339.1,499.6 340.1,499.6 341.0,500.2 342.0,501.0 343.0,500.9 344.0,498.9 345.0,500.2 345.7,500.8 346.8,502.4 347.8,504.1 348.9,506.7 349.9,510.1 351.3,505.7 352.3,505.8 353.2,506.1 354.2,506.1 355.2,506.1 356.3,504.5 357.7,498.4 359.1,495.8 360.1,498.4 361.2,500.3 362.3,501.2 363.4,501.9 364.6,501.2 365.7,500.2 366.9,500.5 368.1,502.0 369.2,502.4 370.4,502.1 371.6,502.1 372.8,503.3 374.0,504.0 374.9,504.4 375.9,502.5 376.8,502.8 378.2,499.5 379.3,497.6 380.4,497.2 381.4,496.8 382.5,496.7 383.8,496.0 385.0,493.9 386.0,503.2 387.4,507.5 388.5,508.9 389.6,512.2 390.5,512.4 391.3,508.6 392.7,501.0 393.8,492.3 394.9,489.1 395.9,494.0 397.3,496.7 398.4,497.7 399.5,500.4 400.4,501.3 401.2,501.5 402.1,500.9 403.0,497.0 404.4,492.0 405.8,495.6 406.8,493.9 407.7,495.0 408.5,492.1 409.4,489.7 410.5,478.7 411.5,471.6 412.5,485.9 413.6,485.0 414.7,483.8 415.8,480.1 417.2,474.3 418.2,465.9 419.3,464.5 420.7,461.1 421.8,460.2 422.8,467.0 424.3,461.5 425.7,457.0 427.1,454.0 428.1,456.9 429.2,457.3 430.2,457.4 431.3,457.2 432.7,454.2 434.2,453.1 435.6,449.4 437.0,452.2 438.1,454.6 439.1,453.9 440.0,456.0 440.8,458.3 441.8,459.6 442.7,460.2 443.8,460.9 444.8,462.3 445.9,465.4 446.9,467.1 448.3,471.1 449.7,479.0 451.2,482.9 452.6,480.5 453.6,482.1 454.7,484.9 455.8,490.3 456.8,494.3 458.2,500.5 459.7,495.9 461.1,508.6 462.1,511.5 462.9,499.9 463.9,491.5 464.9,496.7 465.8,497.0 466.7,495.7 467.8,495.5 468.9,496.4 470.0,496.0 471.4,499.7 472.4,492.1 473.2,489.8 474.2,499.6 475.2,499.7 476.3,498.6 477.4,497.6 478.5,497.0 479.6,496.1 480.6,494.4 481.6,493.9 482.7,496.2 483.6,497.6 484.6,497.0 485.5,496.8 486.5,497.1 487.4,497.8 488.4,498.7 489.3,498.8 490.3,499.3 491.2,498.2 492.1,499.6 493.1,498.6 494.0,499.2 495.4,496.3 496.9,497.1 497.9,494.2 499.0,491.4 500.4,488.5 501.8,486.3 503.2,496.1 504.6,490.2 506.1,494.4 507.5,492.5 508.6,494.6 509.6,497.2 511.0,498.6 512.4,497.8 513.4,491.3 514.6,499.1 515.7,499.6 516.7,497.9 517.8,499.6 518.8,498.0 519.7,497.9 520.7,498.8 521.6,499.7 522.7,500.6 523.8,500.3 525.2,497.8 526.6,495.0 528.0,498.8 529.0,498.4 530.1,498.2 531.2,499.1 532.3,500.7 533.3,500.3 534.4,500.0 535.5,498.4 536.5,499.9 537.5,499.0 538.6,498.6 539.7,500.0 540.8,499.7 541.7,499.9 542.7,500.3 543.6,501.0 545.0,498.5 546.0,498.1 547.1,495.6 548.5,498.7 550.0,498.0 551.0,497.1 552.1,496.0 553.2,494.2 554.2,492.6 555.2,492.3 556.3,493.9 557.7,492.1 559.2,495.6 560.6,495.7 562.0,498.2 562.9,502.1 563.8,503.0 564.6,500.6 565.5,499.1 567.0,496.7 568.0,494.1 569.1,493.4 570.2,494.0 571.2,494.4 572.2,493.6 573.3,493.0 574.4,492.3 575.5,492.2 576.5,493.6 577.6,493.1 578.7,493.9 579.7,496.2 580.8,493.1 581.8,493.6 582.8,494.5 583.9,494.6 585.0,495.4 586.1,496.3 587.2,495.8 588.2,494.2 589.2,495.2 590.3,494.5 591.3,494.8 592.4,493.3 593.7,493.7 595.0,492.4 596.4,495.2 597.5,495.7 598.5,497.2 599.5,497.2 600.6,497.9 601.7,495.2 602.7,492.6 604.2,487.8 605.3,481.8 606.3,478.7 607.3,491.8 608.4,505.2 609.8,507.6 610.8,504.8 611.9,502.6 612.9,511.4 614.4,518.3 615.3,518.6 616.2,521.2 617.6,519.2 618.7,521.9 619.7,521.8 620.8,522.0 621.9,523.9 623.3,527.1 624.2,524.7 625.1,523.8 626.3,522.7 627.5,520.5 628.5,518.9 629.6,516.8 630.7,514.9 631.8,514.0 632.8,512.2 633.9,510.5 635.3,506.4 636.3,507.4 637.4,507.9 638.3,509.9 639.3,511.0 640.1,509.7 641.0,510.2 642.0,508.8 643.1,507.7 644.0,505.8 645.0,505.7 645.9,504.7 647.3,505.3 648.8,509.0 650.2,505.1 651.6,503.9 652.7,506.7 653.7,507.5 654.8,508.5 655.8,508.9 656.9,509.4 658.0,509.1 659.0,508.6 660.1,510.5 661.2,511.4 662.2,510.0 663.2,510.7 664.3,510.6 665.4,511.2 666.5,511.6 667.5,514.5 668.6,515.7 669.7,515.4 670.7,516.0 671.8,514.4 672.8,515.2 673.8,514.3 674.7,511.3 675.7,505.2 677.1,511.7 678.0,511.4 678.9,514.5 679.8,511.0 680.6,508.6 682.0,504.4 683.5,504.0 684.4,506.5 685.2,507.0 686.1,509.6 687.0,512.5 688.0,508.7 689.1,506.8 690.2,504.3 691.2,500.3 692.3,501.5 693.4,501.6 694.8,503.0 695.6,501.1 696.5,498.1 697.4,498.7 698.3,500.0 699.4,501.5 700.5,502.8 701.5,502.3 702.6,500.8 703.7,499.3 704.7,498.1 705.8,495.0 706.8,495.2 707.8,496.8 708.9,497.0 710.0,498.1 711.1,498.2 712.2,498.2 713.2,497.3 714.2,499.0 715.3,499.0 716.3,499.3 717.4,499.3 718.2,496.8 719.1,495.5 720.0,498.7 721.0,499.7 722.1,500.0 723.2,501.7 724.2,500.9 725.2,501.1 726.3,501.3 727.4,502.2 728.5,502.5 729.5,499.9 730.6,498.6 731.5,501.6 732.3,505.5 733.7,495.4 734.8,501.3 735.8,502.1 736.9,500.7 738.0,501.2 739.1,499.4 740.2,497.5 741.2,498.9 742.2,499.1 743.3,499.4 744.3,499.3 745.4,498.5 746.4,496.8 747.3,496.6 748.3,496.6 749.3,498.6 750.4,498.9 751.5,500.6 752.5,501.1 753.5,498.0 754.6,499.1 755.7,500.8 756.8,501.2 757.8,502.7 758.9,502.4 759.8,501.3 760.8,501.5 761.7,501.4 762.7,501.4 763.6,501.0 764.6,500.7 765.7,494.0 766.7,489.4 767.7,499.9 768.6,502.5 769.5,503.6 770.5,503.4 771.6,505.1 772.7,506.7 773.8,507.5 774.8,506.7 775.9,505.2 777.0,505.3 778.0,505.1 779.0,504.3 780.1,505.1 781.6,505.3 783.0,502.5 784.4,507.0 785.8,510.1 786.8,508.5 787.9,508.5 789.0,505.7 790.0,507.6 791.0,508.0 791.9,506.7 792.9,507.0 793.8,507.2 794.8,507.2 795.7,506.7 797.1,506.5 797.8,495.2 798.8,500.4 799.7,496.0 800.7,511.0 801.6,513.1 802.5,512.4 803.7,510.7 804.9,511.3 806.0,510.2 807.0,510.2 808.1,509.0 809.2,508.3 810.2,509.5 811.3,511.7 812.3,511.9 813.4,509.0 814.8,510.2 815.8,503.1 817.0,511.5 818.0,511.7 819.1,514.0 820.2,512.5 821.2,509.7 822.6,507.9 823.7,510.2 824.7,512.6 825.8,514.6 826.9,515.2 828.0,515.6 829.0,516.2 829.9,514.6 830.9,515.6 831.8,515.2 832.8,514.1 833.9,512.0 835.0,512.9 836.1,513.3 837.2,515.1 838.2,516.1 839.2,517.2 840.3,519.6 841.3,517.2 842.4,516.8 843.7,517.0 845.0,516.4 845.7,519.6 846.6,520.9 847.6,520.0 848.5,518.7 849.4,519.6 850.4,519.2 851.3,521.2 852.3,520.8 853.2,520.3 854.2,518.2 855.1,516.6 856.1,517.7 857.0,518.0 857.9,516.8 858.9,516.8 859.8,515.1 860.8,515.7 861.9,514.3 863.0,512.2 864.1,511.4 865.5,517.7 866.5,519.0 867.6,521.3 868.5,524.3 869.5,523.6 870.4,523.8 871.4,522.6 872.3,520.9 873.3,521.4 874.2,521.1 875.2,520.2 876.1,520.4 877.0,519.2 878.0,519.4 878.9,517.5 880.0,518.4 881.1,516.6 882.2,515.7 883.2,515.3 884.6,521.0 885.7,522.2 886.7,523.6 887.6,525.7 888.6,525.2 889.5,527.9 890.5,528.3 891.4,530.2 892.4,529.6 893.3,529.7 894.3,531.7 895.2,532.0 896.2,530.7 897.3,530.4 898.4,528.4 899.5,526.2 900.4,524.3 901.4,524.2 902.3,524.7 903.3,524.9 904.4,524.5 905.5,522.6 906.5,523.7 907.5,523.8 908.4,523.9 909.4,525.9 910.3,525.4 911.3,524.4 912.2,522.9 913.1,522.4 914.1,520.4 915.0,520.5 916.1,518.6 917.2,516.4 918.2,519.8 919.3,522.3 920.2,523.0 921.2,524.2 922.1,525.3 923.0,523.8 924.0,522.1 924.9,522.2 925.9,521.6 926.8,520.2 927.8,519.2 928.7,516.8 929.7,517.3 930.6,517.2 931.5,514.6 932.5,514.6 933.4,514.3 934.4,516.5 935.3,516.2 936.3,516.7 937.3,515.3 938.4,513.4 939.5,513.4 940.5,512.4 941.9,515.8 943.3,507.8 944.1,504.4 945.0,500.2 946.0,504.0 946.9,505.7 948.0,510.1 949.0,513.4 950.4,517.0 951.8,514.7 953.3,519.0 954.3,520.5 955.4,521.3 956.8,519.8 958.2,528.7 959.2,527.6 960.3,528.1 961.4,526.1 962.5,526.6 963.5,526.9 964.6,527.7 965.7,529.2 966.7,533.0 968.1,508.2 969.1,507.7 970.5,503.8 971.7,513.8 973.1,523.8 974.5,523.0 975.6,523.7"/>
<polyline fill="none" stroke="#1a1a1a" stroke-width="1.05" stroke-linejoin="round" points="218.3,626.0 230.9,619.9 243.6,616.5 256.2,613.8 268.8,610.0 281.5,609.3 294.1,613.7 306.8,608.9 319.4,609.1 332.0,611.2 344.7,608.1 357.3,608.9 369.9,610.2 382.6,608.5 395.2,602.4 407.9,599.6 420.5,600.9 433.1,604.3 445.8,607.9 458.4,610.4 471.0,596.2 483.7,596.2 496.3,598.8 509.0,591.4 521.6,588.6 534.2,593.3 546.9,593.3 559.5,593.9 572.1,590.5 584.8,589.5 597.4,595.6 610.0,610.4 622.7,630.6 635.3,631.3 648.0,629.6 660.6,639.9 673.2,650.0 685.9,657.4 698.5,658.3 711.1,663.7 723.8,665.0"/>
<polyline fill="none" stroke="#1a1a1a" stroke-width="1.05" stroke-linejoin="round" points="799.6,663.7 812.2,664.8 824.9,665.2 837.5,665.6 850.2,672.8 862.8,670.3 875.4,664.2 888.1,663.8 900.7,662.9"/>
<polyline fill="none" stroke="#1a1a1a" stroke-width="1.05" stroke-linejoin="round" points="938.6,658.3 951.2,658.3"/>
<polyline fill="none" stroke="#1a1a1a" stroke-width="1.05" stroke-linejoin="round" points="218.3,749.8 230.9,744.6 243.6,749.8 256.2,744.6 268.8,739.5 281.5,739.5 294.1,744.6 306.8,749.8 319.4,744.6 332.0,749.8 344.7,749.8 357.3,744.6 369.9,749.8 382.6,744.6 395.2,744.6 407.9,744.6 420.5,744.6 433.1,739.5 445.8,739.5 458.4,739.5 471.0,739.5 483.7,744.6 496.3,744.6 509.0,739.5 521.6,739.5 534.2,739.5 546.9,734.4 559.5,734.4 572.1,739.5 584.8,739.5 597.4,744.6 610.0,744.6 622.7,749.8 635.3,749.8 648.0,760.0 660.6,770.3 673.2,785.7 685.9,795.9 698.5,806.2 711.1,811.3 723.8,816.4 736.4,821.6 749.1,826.7 761.7,821.6 774.3,826.7 787.0,826.7 799.6,826.7 812.2,826.7 824.9,826.7 837.5,826.7 850.2,826.7 862.8,831.8 875.4,831.8 888.1,831.8 900.7,836.9 913.3,831.8 926.0,831.8 938.6,836.9 951.2,836.9 963.9,831.8 976.4,831.8"/>
<g font-family='"Liberation Sans", Arial, Helvetica, sans-serif' font-size="17.2" fill="#000" stroke="#000" stroke-width="0.28" text-anchor="end">
<text x="213.6" y="12.3">10</text>
<text x="213.6" y="40.0">8</text>
<text x="213.6" y="72.1">6</text>
<text x="213.6" y="104.2">4</text>
<text x="213.6" y="130.7">2</text>
<text x="213.6" y="148.0">100</text>
<text x="213.6" y="164.9">0</text>
<text x="213.6" y="186.2">-100</text>
<text x="213.6" y="207.4">-200</text>
<text x="213.6" y="228.7">-300</text>
<text x="213.6" y="250.0">-400</text>
<text x="213.6" y="265.7">-500</text>
<text x="213.6" y="283.0">30</text>
<text x="213.6" y="321.3">20</text>
<text x="213.6" y="364.1">10</text>
<text x="213.6" y="401.2">0</text>
<text x="213.6" y="418.4">15</text>
<text x="213.6" y="439.6">10</text>
<text x="213.6" y="465.1">5</text>
<text x="213.6" y="490.7">0</text>
<text x="213.6" y="516.2">-5</text>
<text x="213.6" y="536.2">-10</text>
<text x="213.6" y="594.0">12</text>
<text x="213.6" y="610.9">10</text>
<text x="213.6" y="632.2">8</text>
<text x="213.6" y="653.5">6</text>
<text x="213.6" y="674.8">4</text>
<text x="213.6" y="696.1">2</text>
<text x="213.6" y="711.8">0</text>
<text x="213.6" y="729.4">-10</text>
<text x="213.6" y="750.6">-15</text>
<text x="213.6" y="776.3">-20</text>
<text x="213.6" y="801.9">-25</text>
<text x="213.6" y="827.6">-30</text>
<text x="213.6" y="847.6">-35</text>
</g>
<g font-family='"Liberation Sans", Arial, Helvetica, sans-serif' font-size="17.2" fill="#000" stroke="#000" stroke-width="0.28" text-anchor="middle">
<text x="312.7" y="557.6">0400</text>
<text x="565.3000000000001" y="557.6">0420</text>
<text x="817.9000000000001" y="557.6">0440</text>
<text x="268.4" y="869.0">0440</text>
<text x="521.0" y="869.0">0500</text>
<text x="773.6" y="869.0">0520</text>
</g>
<text x="120.2" y="869.0" font-family='"Liberation Sans", Arial, Helvetica, sans-serif' font-size="17.2" stroke="#000" stroke-width="0.28">hhmm</text>
<text x="120.2" y="883.0" font-family='"Liberation Sans", Arial, Helvetica, sans-serif' font-size="17.2" stroke="#000" stroke-width="0.28">2015 Jan 03</text>
<g font-family='"Liberation Serif", "Times New Roman", Times, serif' font-size="43" fill="#000">
<text x="923.2" y="35.5" font-size="43">a</text>
<text x="925.0" y="202.7" font-size="41.8">b</text>
<text x="923.5" y="306.6" font-size="43">c</text>
<text x="922.6" y="439.3" font-size="43">d</text>
<text x="923.2" y="610.4" font-size="43">e</text>
<text x="923.4" y="751.0" font-size="42">f</text>
</g>
<g font-family='"Liberation Sans", Arial, Helvetica, sans-serif' font-size="17.1">
<text x="985.0" y="168.6" fill="#ff0000" stroke="#ff0000" stroke-width="0.35">Vz</text>
<text x="985.0" y="210.7" fill="#00ff00" stroke="#00ff00" stroke-width="0.35">Vy</text>
<text x="985.0" y="254.0" fill="#0000ff" stroke="#0000ff" stroke-width="0.35">Vx</text>
<text x="985.0" y="428.7" fill="#ff0000" stroke="#ff0000" stroke-width="0.35">Bz_GSM</text>
<text x="985.0" y="471.3" fill="#00ff00" stroke="#00ff00" stroke-width="0.35">By_GSM</text>
<text x="985.0" y="514.3" fill="#0000ff" stroke="#0000ff" stroke-width="0.35">Bx_GSM</text>
</g>
<text transform="translate(983.4,536) rotate(-90)" font-family='"Liberation Sans", Arial, Helvetica, sans-serif' font-size="8.4" fill="#000" stroke="#000" stroke-width="0.25" style="white-space:pre">Sun Dec  1 18:12:41 2024</text>
<rect x="48.7" y="23.7" width="41.4" height="484.4" fill="#3300f0" stroke="#ff1a1a" stroke-width="1.4" stroke-dasharray="5 4.4"/>
<rect x="48.95" y="601.7" width="41.2" height="221.6" fill="#ff0033" stroke="#ff0a0a" stroke-width="1.3" stroke-dasharray="5 4.4"/>
<text transform="translate(23.2,292.4) rotate(-90) scale(1.035,1)" font-family='"Liberation Serif", "Times New Roman", Times, serif' font-size="36" fill="#0000ff" stroke="#fff" stroke-width="0.55">WIND</text>
<text transform="translate(23.7,759.6) rotate(-90) scale(1.065,1)" font-family='"Liberation Serif", "Times New Roman", Times, serif' font-size="34.8" fill="#000" stroke="#fff" stroke-width="0.5">OMNI</text>
<text transform="translate(131.7,74.3) rotate(-90)" font-family='"Liberation Sans", Arial, Helvetica, sans-serif' font-size="16.8" fill="#000" stroke="#000" stroke-width="0.28" text-anchor="middle">solar wind</text>
<text transform="translate(149.9,76.3) rotate(-90)" font-family='"Liberation Sans", Arial, Helvetica, sans-serif' font-size="16.8" fill="#000" stroke="#000" stroke-width="0.28" text-anchor="middle">dynamic pressure</text>
<text transform="translate(167.8,79.0) rotate(-90)" font-family='"Liberation Sans", Arial, Helvetica, sans-serif' font-size="16.8" fill="#000" stroke="#000" stroke-width="0.28" text-anchor="middle">[nPa]</text>
<text transform="translate(149.5,241.6) rotate(-90)" font-family='"Liberation Sans", Arial, Helvetica, sans-serif' font-size="22.2" fill="#000" stroke="#000" stroke-width="0.28" text-anchor="start">V</text>
<text transform="translate(149.3,220.2) rotate(-90)" font-family='"Liberation Sans", Arial, Helvetica, sans-serif' font-size="15.7" fill="#000" stroke="#000" stroke-width="0.28" text-anchor="start">[km/s]</text>
<text transform="translate(149.0,363.2) rotate(-90)" font-family='"Liberation Serif", "Times New Roman", Times, serif' font-size="22.4" fill="#000" stroke="#000" stroke-width="0.15" text-anchor="start">N</text>
<text transform="translate(148.6,340.3) rotate(-90)" font-family='"Liberation Serif", "Times New Roman", Times, serif' font-size="15.2" fill="#000" stroke="#000" stroke-width="0.15" text-anchor="start">[#/cc]</text>
<text transform="translate(152.0,495.4) rotate(-90)" font-family='"Liberation Serif", "Times New Roman", Times, serif' font-size="22.4" fill="#000" stroke="#000" stroke-width="0.15" text-anchor="start">B</text>
<text transform="translate(151.8,473.6) rotate(-90)" font-family='"Liberation Serif", "Times New Roman", Times, serif' font-size="15.0" fill="#000" stroke="#000" stroke-width="0.15" text-anchor="start">[nT]</text>
<text transform="translate(135.8,645.0) rotate(-90)" font-family='"Liberation Serif", "Times New Roman", Times, serif' font-size="16.6" fill="#000" stroke="#000" stroke-width="0.15" text-anchor="middle">solar wind</text>
<text transform="translate(153.3,651.6) rotate(-90)" font-family='"Liberation Serif", "Times New Roman", Times, serif' font-size="16.6" fill="#000" stroke="#000" stroke-width="0.15" text-anchor="middle">dynamic pressure</text>
<text transform="translate(171.5,647.9) rotate(-90)" font-family='"Liberation Serif", "Times New Roman", Times, serif' font-size="16.6" fill="#000" stroke="#000" stroke-width="0.15" text-anchor="middle">[nPa]</text>
<text transform="translate(145.5,775.4) rotate(-90)" font-family='"Liberation Serif", "Times New Roman", Times, serif' font-size="22.6" fill="#000" stroke="#000" stroke-width="0.15" text-anchor="middle">SYM-H</text>
<text transform="translate(164.6,777.9) rotate(-90)" font-family='"Liberation Sans", Arial, Helvetica, sans-serif' font-size="15.3" fill="#000" stroke="#000" stroke-width="0.28" text-anchor="middle">[nT]</text>
</svg>
</body></html>
